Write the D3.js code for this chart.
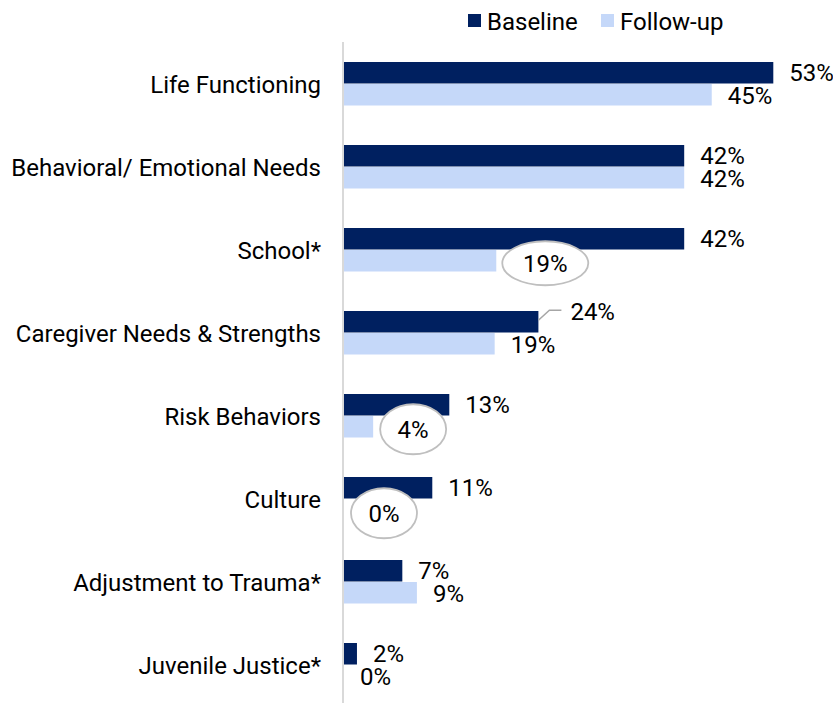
<!DOCTYPE html>
<html><head><meta charset="utf-8">
<script src="https://cdn.jsdelivr.net/npm/d3@7"></script>
<style>body{margin:0;background:#fff}svg{display:block;font-family:Roboto,"Noto Sans",sans-serif}</style>
</head><body><svg id="c" width="833" height="703"></svg>
<script>
const categories = ["Life Functioning","Behavioral/ Emotional Needs","School*","Caregiver Needs & Strengths","Risk Behaviors","Culture","Adjustment to Trauma*","Juvenile Justice*"];
const baseline = [53, 42, 42, 24, 13, 10.9, 7.2, 1.6];
const followup = [45.4, 42, 18.8, 18.6, 3.6, 0, 9, 0];
const seriesNames = ["Baseline","Follow-up"];
const colors = ["#002060","#C5D8F9"];

const FS = 24;
const svg = d3.select("#c");
const x0 = 344;
const x = d3.scaleLinear().domain([0, 100]).range([x0, x0 + 810]);
const y = d3.scaleBand().domain(categories).range([42, 706]);
const barH = 21.5;

// axis line
svg.append("line").attr("x1", 343).attr("x2", 343).attr("y1", 42).attr("y2", 703)
  .attr("stroke", "#D9D9D9").attr("stroke-width", 2);

// category labels
svg.selectAll("text.cat").data(categories).join("text")
  .attr("x", 321).attr("y", d => y(d) + y.bandwidth() / 2 + 1)
  .attr("text-anchor", "end").attr("dominant-baseline", "central")
  .attr("font-size", FS).attr("fill", "#000").text(d => d);

const series = [baseline, followup];
series.forEach((vals, si) => {
  svg.selectAll("rect.s" + si).data(vals).join("rect")
    .attr("x", x0)
    .attr("y", (d, i) => y(categories[i]) + y.bandwidth() / 2 - barH + si * (barH + 0.5))
    .attr("width", d => x(d) - x0)
    .attr("height", barH)
    .attr("fill", colors[si]);
});

const fmt = d => Math.round(d) + "%";
const callouts = {"1-2": [49, 2, 43, 22], "1-4": [40, 2, 33, 25], "1-5": [40, 3, 33, 25]};
series.forEach((vals, si) => {
  vals.forEach((v, i) => {
    const cy = y(categories[i]) + y.bandwidth() / 2 - barH / 2 + si * (barH + 0.5) - (si === 0 ? 0.5 : -0.5);
    const key = si + "-" + i;
    if (callouts[key]) {
      const [dx, dy, rx, ry] = callouts[key];
      const cx = x(v) + dx;
      svg.append("ellipse").attr("cx", cx).attr("cy", cy + dy)
        .attr("rx", rx).attr("ry", ry)
        .attr("fill", "#fff").attr("stroke", "#BFBFBF").attr("stroke-width", 1.8);
      svg.append("text").attr("x", cx).attr("y", cy + dy + 1)
        .attr("text-anchor", "middle").attr("dominant-baseline", "central")
        .attr("font-size", FS).text(fmt(v));
    } else if (key === "0-3") {
      const ex = x(v);
      svg.append("polyline")
        .attr("points", [[ex, cy - 1], [ex + 11, cy - 11], [ex + 23, cy - 11]].map(p => p.join(",")).join(" "))
        .attr("fill", "none").attr("stroke", "#A6A6A6").attr("stroke-width", 1.5);
      svg.append("text").attr("x", ex + 32).attr("y", cy - 9)
        .attr("dominant-baseline", "central").attr("font-size", FS).text(fmt(v));
    } else {
      svg.append("text").attr("x", x(v) + 16).attr("y", cy + 1)
        .attr("dominant-baseline", "central").attr("font-size", FS).text(fmt(v));
    }
  });
});

// legend
const leg = [[468, 487], [601, 620]];
seriesNames.forEach((n, i) => {
  svg.append("rect").attr("x", leg[i][0]).attr("y", 14).attr("width", 13).attr("height", 13).attr("fill", colors[i]);
  svg.append("text").attr("x", leg[i][1]).attr("y", 22).attr("dominant-baseline", "central")
    .attr("font-size", FS).text(n);
});
</script></body></html>
